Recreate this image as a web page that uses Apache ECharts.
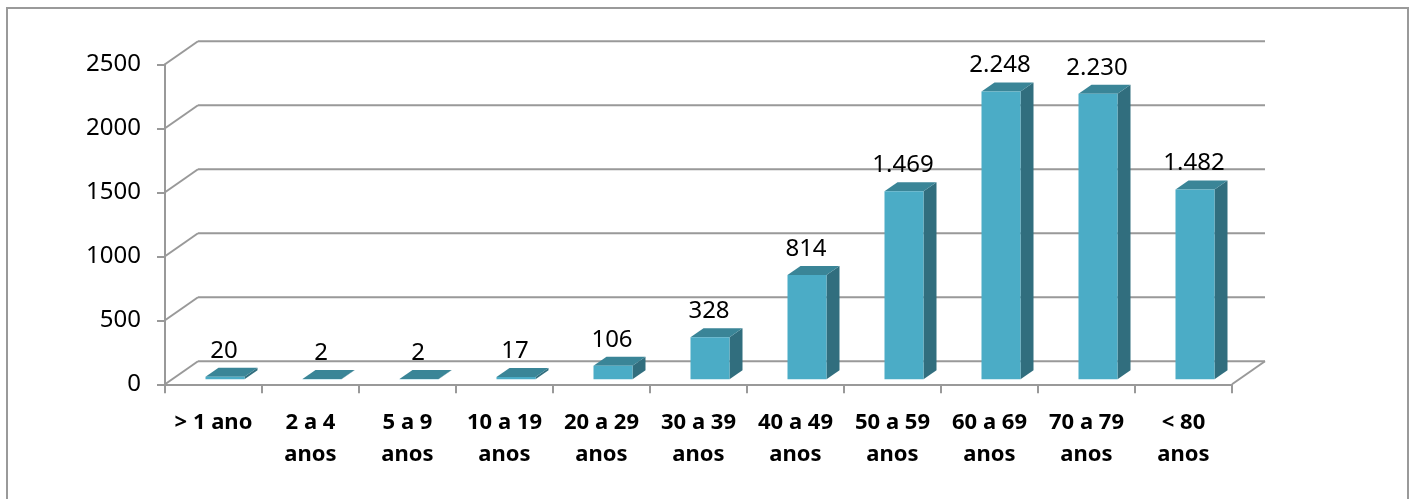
<!DOCTYPE html>
<html>
<head>
<meta charset="utf-8">
<script src="https://cdn.jsdelivr.net/npm/echarts@6/dist/echarts.min.js"></script>
<style>
html,body{margin:0;padding:0;background:#fff;}
#chart{width:1413px;height:499px;}
</style>
</head>
<body>
<div id="chart"></div>
<script>
const categories = ['> 1 ano','2 a 4\nanos','5 a 9\nanos','10 a 19\nanos','20 a 29\nanos','30 a 39\nanos','40 a 49\nanos','50 a 59\nanos','60 a 69\nanos','70 a 79\nanos','< 80\nanos'];
const values = [20, 2, 2, 17, 106, 328, 814, 1469, 2248, 2230, 1482];
const yTicks = [0, 500, 1000, 1500, 2000, 2500];

const DX = 33, DY = -23;          // depth offset of back wall
const BAR_W = 39, BAR_SHIFT = 11.5, BAR_LIFT = 5, SIDE_DX = 13, SIDE_DY = -9;
const GRID_COLOR = '#999999';

function fmt(v) {
  return String(v).replace(/\B(?=(\d{3})+(?!\d))/g, '.');
}

const chart = echarts.init(document.getElementById('chart'), null, {renderer: 'canvas'});

const option = {
  animation: false,
  backgroundColor: '#ffffff',
  graphic: [{
    type: 'rect',
    shape: {x: 7, y: 8, width: 1401, height: 520},
    style: {fill: 'none', stroke: '#9a9a9a', lineWidth: 2},
    z: -10, silent: true
  }],
  grid: {left: 165, right: 181, top: 64.3, bottom: 114.7, containLabel: false},
  xAxis: {
    type: 'category',
    data: categories,
    boundaryGap: true,
    axisLine: {show: true, lineStyle: {color: GRID_COLOR, width: 2}},
    axisTick: {show: true, length: 9, interval: 0, lineStyle: {color: GRID_COLOR, width: 2}},
    axisLabel: {
      interval: 0, margin: 22, color: '#000',
      fontFamily: 'Noto Sans', fontSize: 22, fontWeight: 'bold', lineHeight: 32
    },
    splitLine: {show: false}
  },
  yAxis: {
    type: 'value', min: 0, max: 2500, interval: 500,
    axisLine: {show: true, lineStyle: {color: GRID_COLOR, width: 2}},
    axisTick: {show: true, length: 8, lineStyle: {color: GRID_COLOR, width: 2}},
    axisLabel: {
      margin: 24, color: '#000', fontFamily: 'Noto Sans', fontSize: 24,
      formatter: v => String(v)
    },
    splitLine: {show: false}
  },
  series: [
    {
      type: 'custom',
      silent: true,
      z: 1,
      data: yTicks.map(v => [0, v]),
      renderItem: function (params, api) {
        const v = api.value(1);
        const y = api.coord([0, v])[1];
        const cs = params.coordSys;
        const ls = {stroke: GRID_COLOR, lineWidth: 2, fill: null};
        const children = [
          {type: 'line', shape: {x1: cs.x, y1: y, x2: cs.x + DX, y2: y + DY}, style: ls},
          {type: 'line', shape: {x1: cs.x + DX, y1: y + DY, x2: cs.x + cs.width + DX, y2: y + DY}, style: ls}
        ];
        if (v === 0) {
          children.push({type: 'line', shape: {x1: cs.x + cs.width, y1: y, x2: cs.x + cs.width + DX, y2: y + DY}, style: ls});
        }
        return {type: 'group', children: children};
      }
    },
    {
      type: 'custom',
      z: 2,
      data: values.map((v, i) => [i, v]),
      renderItem: function (params, api) {
        const i = api.value(0), v = api.value(1);
        const top = api.coord([i, v]);
        const bot = api.coord([i, 0]);
        const cx = top[0] + BAR_SHIFT;
        const xl = cx - BAR_W / 2, xr = cx + BAR_W / 2;
        const yt = top[1] - BAR_LIFT, yb = bot[1] - BAR_LIFT;
        return {
          type: 'group',
          children: [
            {type: 'polygon', shape: {points: [[xr, yt], [xr, yb], [xr + SIDE_DX, yb + SIDE_DY], [xr + SIDE_DX, yt + SIDE_DY]]},
              style: {fill: '#316E7E'}},
            {type: 'polygon', shape: {points: [[xl, yt], [xr, yt], [xr + SIDE_DX, yt + SIDE_DY], [xl + SIDE_DX, yt + SIDE_DY]]},
              style: {fill: '#3A8597'}},
            {type: 'rect', shape: {x: xl, y: yt, width: BAR_W, height: Math.max(yb - yt, 0)},
              style: {fill: '#4BACC6'}},
            {type: 'text', x: cx - 1, y: yt + SIDE_DY - 17,
              style: {text: fmt(v), fill: '#000', font: '24px "Noto Sans"', align: 'center', verticalAlign: 'middle'}}
          ]
        };
      }
    }
  ]
};
chart.setOption(option);
</script>
</body>
</html>
